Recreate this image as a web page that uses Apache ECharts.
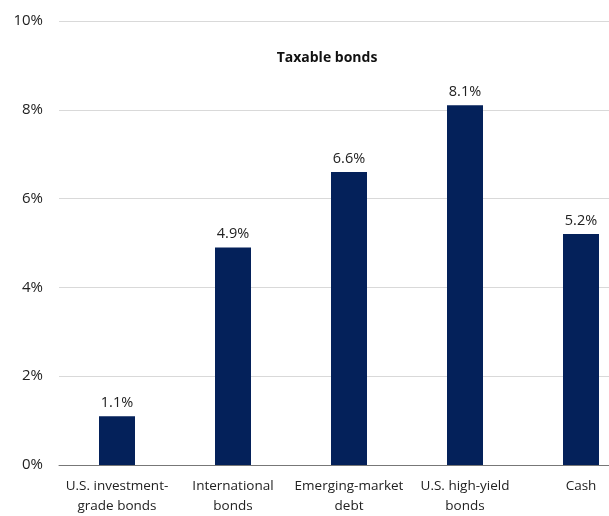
<!DOCTYPE html>
<html><head><meta charset="utf-8">
<script src="https://cdn.jsdelivr.net/npm/echarts@6/dist/echarts.min.js"></script>
<style>html,body{margin:0;padding:0;background:#fff;overflow:hidden}#c{width:639px;height:516px}</style>
</head><body><div id="c"></div>
<script>
const categories = ["U.S. investment-\ngrade bonds", "International\nbonds", "Emerging-market\ndebt", "U.S. high-yield\nbonds", "Cash"];
const values = [1.1, 4.9, 6.6, 8.1, 5.2];
const chartTitle = "Taxable bonds";

const chart = echarts.init(document.getElementById('c'), null, {renderer: 'canvas'});
const font = "'Open Sans', 'Noto Sans', sans-serif";
chart.setOption({
  backgroundColor: '#ffffff',
  animation: false,
  title: {
    text: chartTitle, left: 322, top: 46, textAlign: 'center',
    textStyle: {fontFamily: font, fontSize: 14, fontWeight: 'bold', color: '#111'}
  },
  grid: {left: 59, right: 0, top: 21, bottom: 48, containLabel: false},
  xAxis: {
    type: 'category', data: categories,
    axisLine: {lineStyle: {color: '#777', width: 1}},
    axisTick: {show: false},
    axisLabel: {fontFamily: font, fontSize: 13.5, color: '#222', lineHeight: 20, margin: 11, interval: 0}
  },
  yAxis: {
    type: 'value', min: 0, max: 10, interval: 2,
    axisLine: {show: false}, axisTick: {show: false},
    axisLabel: {fontFamily: font, fontSize: 15, color: '#222', margin: 16, formatter: v => v + '%'},
    splitLine: {lineStyle: {color: '#d9d9d9', width: 1}}
  },
  series: [{
    type: 'bar', data: values, barWidth: 36,
    itemStyle: {color: '#04215a'},
    label: {show: true, position: 'top', distance: 6, fontFamily: font, fontSize: 14.5, color: '#222', formatter: p => p.value.toFixed(1) + '%'}
  }]
});
</script></body></html>
